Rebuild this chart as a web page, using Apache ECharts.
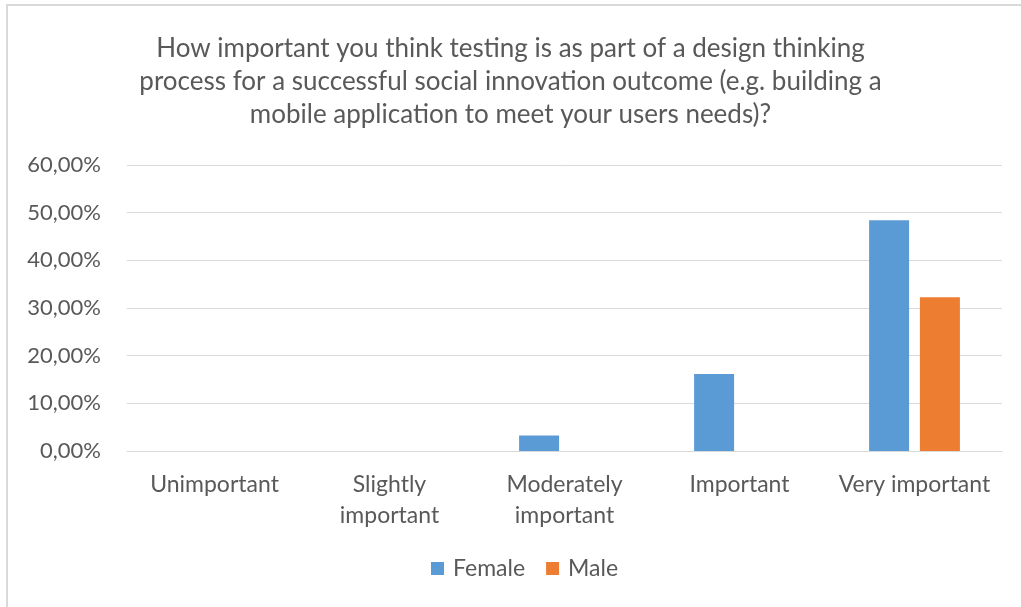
<!DOCTYPE html>
<html>
<head>
<meta charset="utf-8">
<script src="https://cdn.jsdelivr.net/npm/echarts@6/dist/echarts.min.js"></script>
<style>
  html, body { margin: 0; padding: 0; background: #ffffff; }
  #chart { width: 1021px; height: 607px; }
</style>
</head>
<body>
<div id="chart"></div>
<script>
// Survey answers by importance level, share of respondents (%)
const categories = ['Unimportant', 'Slightly\nimportant', 'Moderately\nimportant', 'Important', 'Very important'];
const female = [0, 0, 3.23, 16.13, 48.39];
const male = [0, 0, 0, 0, 32.26];
const titleText = 'How important you think testing is as part of a design thinking\nprocess for a successful social innovation outcome (e.g. building a\nmobile application to meet your users needs)?';

const font = 'Lato, "Open Sans", sans-serif';
const textColor = '#595959';

const chart = echarts.init(document.getElementById('chart'));
chart.setOption({
  animation: false,
  backgroundColor: '#ffffff',
  graphic: [{
    type: 'rect',
    shape: { x: 7, y: 5, width: 1100, height: 700 },
    style: { fill: 'none', stroke: '#d9d9d9', lineWidth: 2 },
    silent: true
  }],
  title: {
    text: titleText,
    left: 'center',
    top: 27,
    textStyle: {
      fontFamily: font,
      fontSize: 26,
      fontWeight: 'normal',
      color: textColor,
      lineHeight: 33,
      align: 'center'
    }
  },
  legend: {
    data: ['Female', 'Male'],
    top: 557,
    left: 431,
    padding: 0,
    icon: 'rect',
    itemWidth: 13,
    itemHeight: 13,
    itemGap: 21,
    textStyle: { fontFamily: font, fontSize: 23, color: textColor, padding: [0, 0, 0, 4] }
  },
  grid: { left: 127, right: 19, top: 165, bottom: 156 },
  xAxis: {
    type: 'category',
    data: categories,
    axisLine: { lineStyle: { color: '#d9d9d9', width: 1 } },
    axisTick: { show: false },
    axisLabel: {
      fontFamily: font,
      fontSize: 23,
      color: textColor,
      lineHeight: 31,
      margin: 18,
      interval: 0
    }
  },
  yAxis: {
    type: 'value',
    min: 0,
    max: 60,
    interval: 10,
    axisLine: { show: false },
    axisTick: { show: false },
    splitLine: { lineStyle: { color: '#d9d9d9', width: 1 } },
    axisLabel: {
      fontFamily: font,
      fontSize: 22,
      color: textColor,
      margin: 26,
      formatter: v => v.toFixed(2).replace('.', ',') + '%'
    }
  },
  series: [
    {
      name: 'Female',
      type: 'bar',
      data: female,
      barWidth: 40,
      barGap: '27%',
      itemStyle: { color: '#5b9bd5' }
    },
    {
      name: 'Male',
      type: 'bar',
      data: male,
      barWidth: 40,
      itemStyle: { color: '#ed7d31' }
    }
  ]
});
</script>
</body>
</html>
